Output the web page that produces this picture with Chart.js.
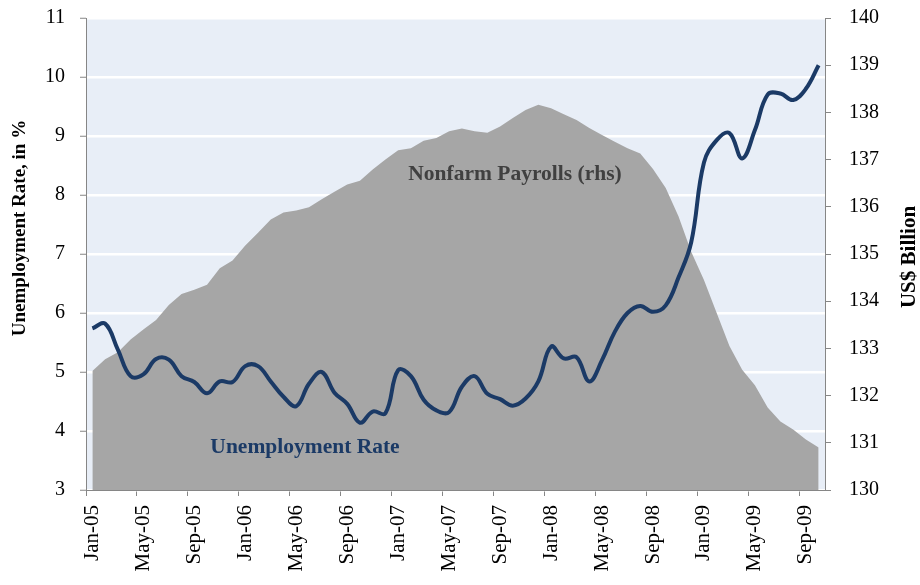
<!DOCTYPE html>
<html>
<head>
<meta charset="utf-8">
<script src="https://cdn.jsdelivr.net/npm/chart.js@4/dist/chart.umd.min.js"></script>
<style>
  html, body { margin: 0; padding: 0; background: #ffffff; }
  #wrap { width: 920px; height: 585px; position: relative; }
</style>
</head>
<body>
<div id="wrap"><canvas id="c"></canvas></div>
<script>
const months = [
  'Jan-05','Feb-05','Mar-05','Apr-05','May-05','Jun-05','Jul-05','Aug-05','Sep-05','Oct-05','Nov-05','Dec-05',
  'Jan-06','Feb-06','Mar-06','Apr-06','May-06','Jun-06','Jul-06','Aug-06','Sep-06','Oct-06','Nov-06','Dec-06',
  'Jan-07','Feb-07','Mar-07','Apr-07','May-07','Jun-07','Jul-07','Aug-07','Sep-07','Oct-07','Nov-07','Dec-07',
  'Jan-08','Feb-08','Mar-08','Apr-08','May-08','Jun-08','Jul-08','Aug-08','Sep-08','Oct-08','Nov-08','Dec-08',
  'Jan-09','Feb-09','Mar-09','Apr-09','May-09','Jun-09','Jul-09','Aug-09','Sep-09','Oct-09'
];
const unemploymentRate = [
  5.74, 5.82, 5.38, 4.93, 4.96, 5.22, 5.21, 4.93, 4.83, 4.64, 4.84, 4.83,
  5.10, 5.10, 4.84, 4.58, 4.42, 4.80, 5.00, 4.65, 4.46, 4.14, 4.33, 4.30,
  5.03, 4.93, 4.53, 4.35, 4.32, 4.75, 4.93, 4.63, 4.54, 4.43, 4.55, 4.84,
  5.43, 5.23, 5.25, 4.84, 5.20, 5.68, 6.00, 6.12, 6.02, 6.13, 6.60, 7.20,
  8.55, 8.93, 9.05, 8.62, 9.10, 9.70, 9.72, 9.61, 9.80, 10.20
];
const nonfarmPayrolls = [
  132.52, 132.77, 132.92, 133.19, 133.40, 133.60, 133.92, 134.15, 134.24, 134.35, 134.70, 134.86,
  135.18, 135.45, 135.73, 135.88, 135.92, 135.99, 136.16, 136.32, 136.47, 136.55, 136.79, 137.00,
  137.20, 137.24, 137.40, 137.46, 137.60, 137.66, 137.60, 137.57, 137.70, 137.88, 138.05, 138.16,
  138.09, 137.96, 137.84, 137.67, 137.52, 137.38, 137.24, 137.13, 136.80, 136.40, 135.80, 135.05,
  134.45, 133.75, 133.05, 132.55, 132.22, 131.75, 131.45, 131.28, 131.07, 130.90
];
const leftAxisTitle = 'Unemployment Rate, in %';
const rightAxisTitle = 'US$ Billion';
const payrollsLabel = 'Nonfarm Payrolls (rhs)';
const rateLabel = 'Unemployment Rate';

const SERIF = "'Liberation Serif', 'Times New Roman', serif";
Chart.defaults.font.family = SERIF;
Chart.defaults.color = '#000000';

const decor = {
  id: 'decor',
  beforeDraw(chart) {
    const {ctx, chartArea: a} = chart;
    ctx.save();
    ctx.fillStyle = '#E8EEF7';
    ctx.fillRect(a.left, a.top, a.right - a.left, a.bottom - a.top);
    ctx.restore();
  },
  afterDraw(chart) {
    const {ctx} = chart;
    ctx.save();
    ctx.textAlign = 'center';
    ctx.textBaseline = 'middle';
    ctx.fillStyle = '#000000';
    ctx.font = 'bold 19px ' + SERIF;
    ctx.save();
    ctx.translate(20, 228);
    ctx.rotate(-Math.PI / 2);
    ctx.fillText(leftAxisTitle, 0, 0);
    ctx.restore();
    ctx.font = 'bold 21px ' + SERIF;
    ctx.save();
    ctx.translate(910, 257);
    ctx.rotate(-Math.PI / 2);
    ctx.fillText(rightAxisTitle, 0, 0);
    ctx.restore();
    ctx.font = 'bold 21.5px ' + SERIF;
    ctx.fillStyle = '#404040';
    ctx.fillText(payrollsLabel, 515, 174);
    ctx.fillStyle = '#1B3A66';
    ctx.fillText(rateLabel, 305, 447);
    ctx.restore();
  }
};

function fixVertical(width) {
  return function (scale) {
    scale.width = width;
    scale.paddingTop = 0;
    scale.paddingBottom = 0;
  };
}

new Chart(document.getElementById('c'), {
  type: 'line',
  data: {
    labels: months,
    datasets: [
      {
        label: 'Unemployment Rate',
        data: unemploymentRate,
        yAxisID: 'y',
        borderColor: '#1B3A66',
        borderWidth: 4,
        pointRadius: 0,
        tension: 0.4,
        fill: false,
        order: 0
      },
      {
        label: 'Nonfarm Payrolls (rhs)',
        data: nonfarmPayrolls,
        yAxisID: 'y2',
        borderWidth: 0,
        borderColor: 'rgba(0,0,0,0)',
        backgroundColor: '#A6A6A6',
        pointRadius: 0,
        tension: 0,
        fill: 'start',
        order: 1
      }
    ]
  },
  options: {
    responsive: true,
    maintainAspectRatio: false,
    animation: false,
    layout: { padding: { top: 18, left: 0, right: 0, bottom: 0 } },
    plugins: { legend: { display: false }, tooltip: { enabled: false }, title: { display: false } },
    scales: {
      x: {
        type: 'category',
        offset: true,
        z: 1,
        grid: {
          offset: true,
          drawOnChartArea: false,
          drawTicks: true,
          tickLength: 6,
          tickColor: (ctx) => (ctx.index % 4 === 0 ? '#868686' : 'rgba(0,0,0,0)'),
          tickWidth: 1
        },
        border: { display: true, color: '#868686', width: 1 },
        ticks: {
          autoSkip: false,
          maxRotation: 90,
          minRotation: 90,
          padding: 9,
          font: { size: 21 },
          color: '#000000',
          callback: function (val, idx) { return idx % 4 === 0 ? this.getLabelForValue(val) : ''; }
        },
        afterFit(scale) { scale.height = 95; scale.paddingLeft = 0; scale.paddingRight = 0; }
      },
      y: {
        position: 'left',
        min: 3,
        max: 11,
        grid: {
          color: '#FFFFFF',
          lineWidth: 2.5,
          tickColor: '#868686',
          tickWidth: 1,
          tickLength: 6
        },
        border: { display: true, color: '#868686', width: 1 },
        ticks: { stepSize: 1, padding: 15, font: { size: 20 }, color: '#000000' },
        afterFit: fixVertical(86)
      },
      y2: {
        position: 'right',
        min: 130,
        max: 140,
        grid: {
          drawOnChartArea: false,
          tickColor: '#868686',
          tickWidth: 1,
          tickLength: 6
        },
        border: { display: true, color: '#868686', width: 1 },
        ticks: { stepSize: 1, padding: 18, font: { size: 20 }, color: '#000000' },
        afterFit: fixVertical(95)
      }
    }
  },
  plugins: [decor]
});
</script>
</body>
</html>
